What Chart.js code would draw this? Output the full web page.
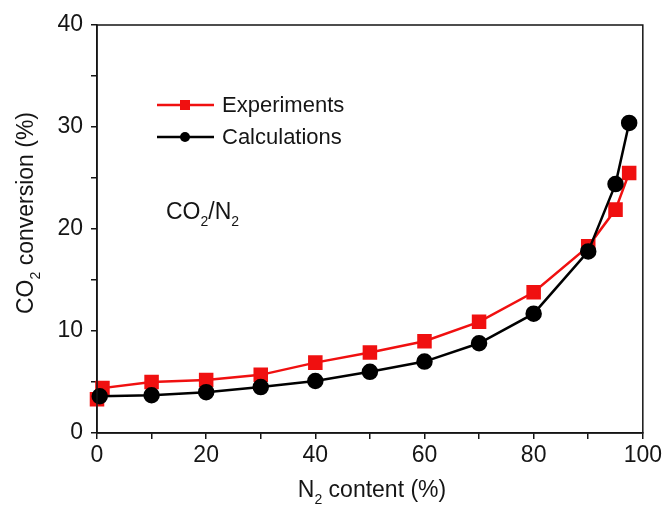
<!DOCTYPE html>
<html>
<head>
<meta charset="utf-8">
<script src="https://cdn.jsdelivr.net/npm/chart.js@4.4.1/dist/chart.umd.min.js"></script>
<style>
  html, body { margin: 0; padding: 0; background: #fff; }
  #wrap { width: 665px; height: 506px; }
</style>
</head>
<body>
<div id="wrap"><canvas id="conv"></canvas></div>
<script>
// N2 content (%) and CO2 conversion (%)
const expX = [0, 1, 10, 20, 30, 40, 50, 60, 70, 80, 90, 95, 97.5];
const expY = [3.3, 4.4, 5.0, 5.2, 5.7, 6.9, 7.9, 9.0, 10.9, 13.8, 18.3, 21.9, 25.5];
const calcX = [0.5, 10, 20, 30, 40, 50, 60, 70, 80, 90, 95, 97.5];
const calcY = [3.6, 3.7, 4.0, 4.5, 5.1, 6.0, 7.0, 8.8, 11.7, 17.8, 24.4, 30.4];
const xTicks = [0, 20, 40, 60, 80, 100];
const yTicks = [0, 10, 20, 30, 40];

const FONT = '"Liberation Sans", Arial, sans-serif';
const INK = '#151515';

function toPoints(xs, ys) {
  return xs.map((x, i) => ({ x: x, y: ys[i] }));
}

// text with subscript pieces: parts = [[text, isSub], ...]
function drawParts(ctx, parts, x, y, size, align) {
  const subSize = Math.round(size * 0.62);
  let total = 0;
  const widths = parts.map(([t, sub]) => {
    ctx.font = (sub ? subSize : size) + 'px ' + FONT;
    const w = ctx.measureText(t).width;
    total += w;
    return w;
  });
  let cx = align === 'center' ? x - total / 2 : x;
  ctx.textAlign = 'left';
  ctx.textBaseline = 'alphabetic';
  parts.forEach(([t, sub], i) => {
    ctx.font = (sub ? subSize : size) + 'px ' + FONT;
    ctx.fillText(t, cx, sub ? y + size * 0.3 : y);
    cx += widths[i];
  });
}

const decorations = {
  id: 'decorations',
  afterDraw(chart) {
    const ctx = chart.ctx;
    const a = chart.chartArea;
    ctx.save();
    // closed frame around the plot
    ctx.strokeStyle = INK;
    ctx.lineWidth = 1.5;
    ctx.strokeRect(a.left, a.top, a.right - a.left, a.bottom - a.top);

    ctx.fillStyle = INK;
    // axis titles
    drawParts(ctx, [['N', false], ['2', true], [' content (%)', false]], 372, 497, 23, 'center');
    ctx.save();
    ctx.translate(33, 213);
    ctx.rotate(-Math.PI / 2);
    drawParts(ctx, [['CO', false], ['2', true], [' conversion (%)', false]], 0, 0, 23, 'center');
    ctx.restore();

    // gas mixture note
    drawParts(ctx, [['CO', false], ['2', true], ['/N', false], ['2', true]], 166, 219, 23, 'left');

    // legend: line + marker + label
    chart.data.datasets.forEach((ds, i) => {
      const y = 105 + i * 32;
      ctx.strokeStyle = ds.borderColor;
      ctx.lineWidth = ds.borderWidth;
      ctx.beginPath();
      ctx.moveTo(157, y);
      ctx.lineTo(214, y);
      ctx.stroke();
      ctx.fillStyle = ds.pointBackgroundColor;
      if (ds.pointStyle === 'rect') {
        ctx.fillRect(185 - 5, y - 5, 10, 10);
      } else {
        ctx.beginPath();
        ctx.arc(185, y, 5, 0, Math.PI * 2);
        ctx.fill();
      }
      ctx.fillStyle = INK;
      ctx.font = '22px ' + FONT;
      ctx.textBaseline = 'middle';
      ctx.textAlign = 'left';
      ctx.fillText(ds.label, 222, y + 1);
    });
    ctx.restore();
  }
};

new Chart(document.getElementById('conv'), {
  type: 'line',
  data: {
    datasets: [
      {
        label: 'Experiments',
        data: toPoints(expX, expY),
        borderColor: '#f01010',
        backgroundColor: '#f01010',
        pointBackgroundColor: '#f01010',
        pointBorderColor: '#f01010',
        pointStyle: 'rect',
        pointRadius: 8.5,
        borderWidth: 2.5,
        order: 1,
        clip: false
      },
      {
        label: 'Calculations',
        data: toPoints(calcX, calcY),
        borderColor: '#000000',
        backgroundColor: '#000000',
        pointBackgroundColor: '#000000',
        pointBorderColor: '#000000',
        pointStyle: 'circle',
        pointRadius: 7,
        borderWidth: 2.5,
        order: 0,
        clip: false
      }
    ]
  },
  options: {
    responsive: true,
    maintainAspectRatio: false,
    animation: false,
    layout: { padding: { top: 25, right: 21, left: 0, bottom: 0 } },
    plugins: {
      legend: { display: false },
      tooltip: { enabled: false }
    },
    scales: {
      x: {
        type: 'linear',
        min: 0,
        max: 100,
        afterFit(scale) { scale.height = 73; },
        ticks: {
          stepSize: 10,
          padding: 3,
          color: INK,
          font: { family: FONT, size: 23 },
          maxRotation: 0,
          callback: (v) => (xTicks.includes(v) ? v : '')
        },
        grid: { drawOnChartArea: false, drawTicks: true, tickLength: 6, color: INK, lineWidth: 1.5 },
        border: { display: true, color: INK, width: 1.5 }
      },
      y: {
        min: 0,
        max: 40,
        afterFit(scale) { scale.width = 97; },
        ticks: {
          stepSize: 5,
          padding: 8,
          color: INK,
          font: { family: FONT, size: 23 },
          callback: (v) => (yTicks.includes(v) ? v : '')
        },
        grid: { drawOnChartArea: false, drawTicks: true, tickLength: 6, color: INK, lineWidth: 1.5 },
        border: { display: true, color: INK, width: 1.5 }
      }
    }
  },
  plugins: [decorations]
});
</script>
</body>
</html>
